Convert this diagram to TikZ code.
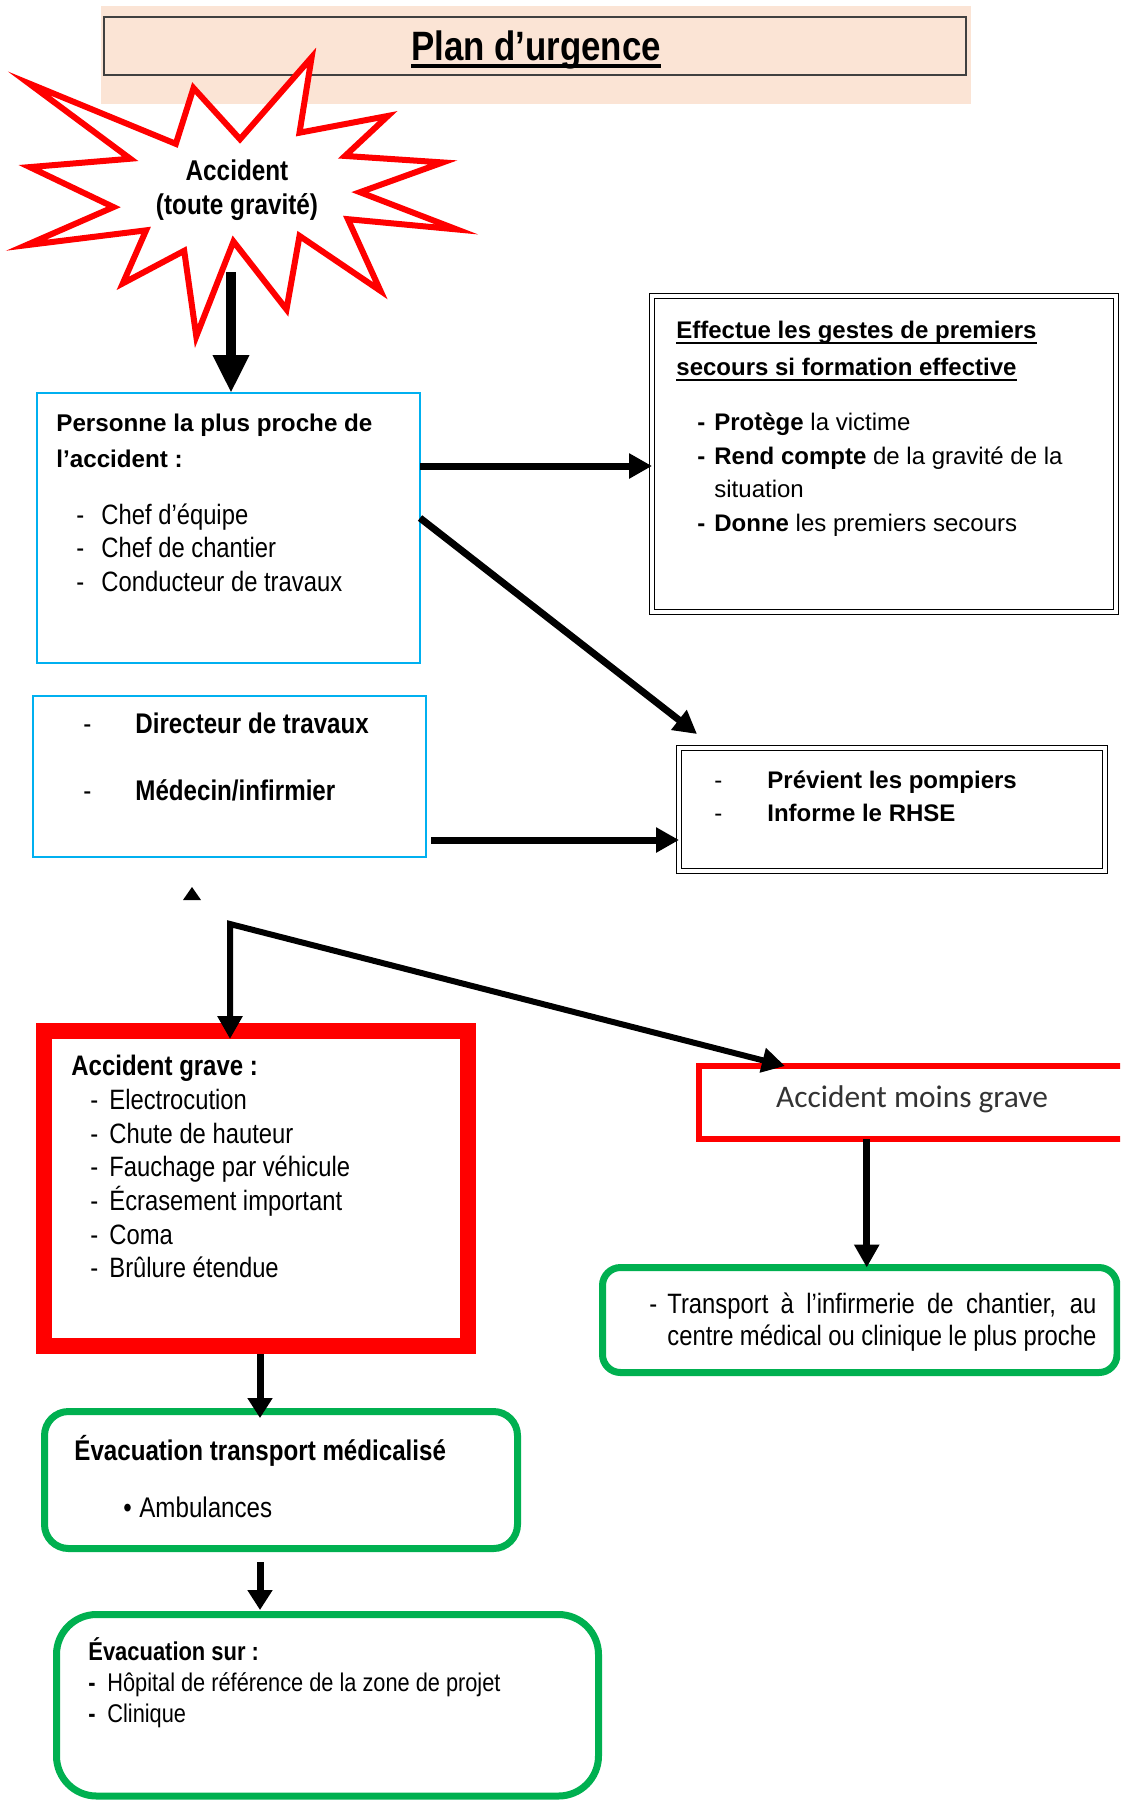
\documentclass[tikz,border=0pt]{standalone}
\usepackage{fontspec}
\setmainfont{Liberation Sans}
\newfontfamily\narrowfont{Liberation Sans}[FakeStretch=0.85]
\newfontfamily\calibrifont{Carlito}
\usetikzlibrary{arrows.meta}

\definecolor{peach}{HTML}{FBE4D5}
\definecolor{framegray}{HTML}{404040}
\definecolor{skyline}{HTML}{00B0F0}
\definecolor{alarm}{HTML}{FF0000}
\definecolor{safe}{HTML}{00B050}

% underline: #1 depth of the bar bottom, #2 bar thickness, #3 text
\newsavebox\ulbox
\newcommand{\barunder}[3]{\sbox\ulbox{#3}\usebox\ulbox\hspace{-\wd\ulbox}\rule[-#1]{\wd\ulbox}{#2}}

\tikzset{
  frame/.style={rectangle, inner sep=0pt, outer sep=0pt},
  bluebox/.style={frame, draw=skyline, line width=1pt},
  dblbox/.style={frame, draw=black, line width=0.7pt, double=white, double distance=1.6pt},
  redbox/.style={frame, draw=alarm},
  greenbox/.style={frame, draw=safe, line width=3.5pt},
  txt/.style={anchor=base west, inner sep=0pt},
  arr/.style={line width=3.5pt, -{Triangle[length=11.5pt,width=12pt]}},
  bigarrow/.style={line width=5pt, -{Triangle[length=19pt,width=17pt]}},
}

\begin{document}
\begin{tikzpicture}[x=0.5pt, y=-0.5pt]
\useasboundingbox (0,0) rectangle (1120,1800);
\clip (0,0) rectangle (1120,1800);

% title
\node[frame, fill=peach, minimum width=435pt, minimum height=49pt] (titlebg) at (536,55) {};
\node[frame, draw=framegray, line width=1pt, fill=peach, minimum width=431pt, minimum height=29pt] (titlebox) at (535,46) {};
\node[anchor=base, inner sep=0pt, font=\narrowfont\bfseries\fontsize{20.5}{24}\selectfont] (title) at (536,60)
  {\barunder{4pt}{2pt}{Plan d’urgence}};

% star
\begin{scope}[shift={(240,195)}, scale=0.93, shift={(-240,-195)}]
\draw[alarm, line width=3pt, fill=white] (317,47) -- (304,128) -- (399,110) -- (353,153) -- (458,160)
  -- (369,192) -- (473,232) -- (356,221) -- (391,298) -- (304,239) -- (290,318) -- (233,245)
  -- (193,347) -- (180,255) -- (114,290) -- (139,233) -- (10,249) -- (104,208) -- (14,165)
  -- (122,156) -- (13,75) -- (171,140) -- (190,80) -- (240,135) -- cycle;
\end{scope}
\node[anchor=base, inner sep=0pt, font=\narrowfont\bfseries\fontsize{14.3}{17}\selectfont] (accident) at (237,180) {Accident};
\node[anchor=base, inner sep=0pt, font=\narrowfont\bfseries\fontsize{14.3}{17}\selectfont] (gravity) at (237,214) {(toute gravité)};
\coordinate (starfoot) at (231,272);

% boxes
\node[bluebox, minimum width=191.5pt, minimum height=135pt] (box1) at (228.5,528) {};
\node[dblbox, minimum width=232pt, minimum height=158pt] (box2) at (884,454) {};
\node[bluebox, minimum width=196.5pt, minimum height=80.5pt] (box3) at (229.5,776.5) {};
\node[dblbox, minimum width=213pt, minimum height=61.5pt] (box4) at (892,809.5) {};
\node[redbox, line width=8pt, minimum width=212pt, minimum height=157.5pt] (box5) at (256,1188.5) {};
\node[redbox, line width=3pt, minimum width=218pt, minimum height=36.5pt] (box6) at (917,1102.5) {};
\node[greenbox, rounded corners=9pt, minimum width=257.25pt, minimum height=52.5pt] (box7) at (859.75,1320) {};
\node[greenbox, rounded corners=12pt, minimum width=236.5pt, minimum height=68.5pt] (box8) at (281,1480) {};
\node[greenbox, rounded corners=20pt, minimum width=271pt, minimum height=90.75pt] (box9) at (327.5,1705.25) {};

% box 1
\node[txt, font=\bfseries\fontsize{12.1}{15}\selectfont] (who1) at (56,431) {Personne la plus proche de};
\node[txt, font=\bfseries\fontsize{12.1}{15}\selectfont] (who2) at (56,467) {l’accident :};
\node[txt, font=\narrowfont\fontsize{14}{16}\selectfont] (who3) at (76,524) {\makebox[12.5pt][l]{-}Chef d’équipe};
\node[txt, font=\narrowfont\fontsize{14}{16}\selectfont] (who4) at (76,557) {\makebox[12.5pt][l]{-}Chef de chantier};
\node[txt, font=\narrowfont\fontsize{14}{16}\selectfont] (who5) at (76,591) {\makebox[12.5pt][l]{-}Conducteur de travaux};

% box 2
\node[txt, font=\bfseries\fontsize{12}{15}\selectfont] (aid1) at (676,338) {\barunder{3pt}{1pt}{Effectue les gestes de premiers}};
\node[txt, font=\bfseries\fontsize{12}{15}\selectfont] (aid2) at (676,375) {\barunder{3pt}{1pt}{secours si formation effective}};
\node[txt, font=\fontsize{12}{14}\selectfont] (aid3) at (697,430) {\makebox[8.5pt][l]{\bfseries -}\textbf{Protège} la victime};
\node[txt, font=\fontsize{12}{14}\selectfont] (aid4) at (697,464) {\makebox[8.5pt][l]{\bfseries -}\textbf{Rend compte} de la gravité de la};
\node[txt, font=\fontsize{12}{14}\selectfont] (aid5) at (714,497) {situation};
\node[txt, font=\fontsize{12}{14}\selectfont] (aid6) at (697,531) {\makebox[8.5pt][l]{\bfseries -}\textbf{Donne} les premiers secours};

% box 3
\node[txt, font=\narrowfont\bfseries\fontsize{14.2}{16}\selectfont] (boss1) at (83,733) {\makebox[26pt][l]{\mdseries -}Directeur de travaux};
\node[txt, font=\narrowfont\bfseries\fontsize{14.2}{16}\selectfont] (boss2) at (83,800) {\makebox[26pt][l]{\mdseries -}Médecin/infirmier};

% box 4
\node[txt, font=\bfseries\fontsize{12}{14}\selectfont] (call1) at (714,788) {\makebox[26.5pt][l]{\mdseries -}Prévient les pompiers};
\node[txt, font=\bfseries\fontsize{12}{14}\selectfont] (call2) at (714,821) {\makebox[26.5pt][l]{\mdseries -}Informe le RHSE};

% box 5
\node[txt, font=\narrowfont\bfseries\fontsize{14.1}{16}\selectfont] (grave0) at (71,1075) {Accident grave :};
\node[txt, font=\narrowfont\fontsize{14}{16}\selectfont] (grave1) at (90,1109) {\makebox[9.5pt][l]{-}Electrocution};
\node[txt, font=\narrowfont\fontsize{14}{16}\selectfont] (grave2) at (90,1143) {\makebox[9.5pt][l]{-}Chute de hauteur};
\node[txt, font=\narrowfont\fontsize{14}{16}\selectfont] (grave3) at (90,1176) {\makebox[9.5pt][l]{-}Fauchage par véhicule};
\node[txt, font=\narrowfont\fontsize{14}{16}\selectfont] (grave4) at (90,1210) {\makebox[9.5pt][l]{-}Écrasement important};
\node[txt, font=\narrowfont\fontsize{14}{16}\selectfont] (grave5) at (90,1244) {\makebox[9.5pt][l]{-}Coma};
\node[txt, font=\narrowfont\fontsize{14}{16}\selectfont] (grave6) at (90,1277) {\makebox[9.5pt][l]{-}Brûlure étendue};

% box 6
\node[anchor=base, inner sep=0pt, text=black!80, font=\calibrifont\fontsize{15.7}{18}\selectfont] (light) at (912,1107) {Accident moins grave};

% box 7
\node[txt, font=\narrowfont\fontsize{14}{16}\selectfont] (near0) at (649,1313) {-};
\node[txt, font=\narrowfont\fontsize{14}{16}\selectfont] (near1) at (667,1313) {\makebox[214.5pt][s]{Transport à l’infirmerie de chantier, au}};
\node[txt, font=\narrowfont\fontsize{14}{16}\selectfont] (near2) at (667,1345) {\makebox[214.5pt][s]{centre médical ou clinique le plus proche}};

% box 8
\node[txt, font=\narrowfont\bfseries\fontsize{14.2}{16}\selectfont] (evac1) at (74,1460) {Évacuation transport médicalisé};
\node[txt, font=\narrowfont\fontsize{14.2}{16}\selectfont] (evac2) at (123,1517) {\makebox[8pt][l]{•}Ambulances};

% box 9
\node[txt, font=\narrowfont\bfseries\fontsize{12.9}{15}\selectfont] (dest0) at (88,1660) {Évacuation sur :};
\node[txt, font=\narrowfont\fontsize{12.8}{15}\selectfont] (dest1) at (88,1691) {\makebox[9.5pt][l]{\bfseries -}Hôpital de référence de la zone de projet};
\node[txt, font=\narrowfont\fontsize{12.8}{15}\selectfont] (dest2) at (88,1722) {\makebox[9.5pt][l]{\bfseries -}Clinique};

% connectors
\draw[bigarrow] (starfoot) -- (starfoot |- box1.north);
\draw[arr] ([yshift=31pt]box1.east) -- ([yshift=-6pt]box2.west);
\draw[arr] ([yshift=5pt]box1.east) -- ([xshift=9pt,yshift=7pt]box4.north west);
\draw[arr] ([xshift=2.5pt,yshift=-31.75pt]box3.east) -- ([yshift=-15.25pt]box4.west);
\fill (192,887) -- (183,900) -- (201,900) -- cycle;
\coordinate (split) at (230,924);
\draw[line width=3pt, {Triangle[length=11.5pt,width=12pt]}-{Triangle[length=11.5pt,width=12pt]}, shorten <=-4pt]
  (split |- box5.north) -- (split) -- ([xshift=43pt]box6.north west);
\draw[arr] ([xshift=3.5pt]box6.south -| box7.north) -- ([xshift=3.5pt]box7.north);
\draw[arr, -{Triangle[length=10pt,width=12pt]}, shorten <=4pt, shorten >=-3.25pt] ([xshift=2pt]box5.south) -- ([xshift=2pt]box5.south |- box8.north);
\draw[arr, -{Triangle[length=10pt,width=12pt]}, shorten <=6.75pt, shorten >=2.25pt] ([xshift=-10.5pt]box8.south) -- ([xshift=-10.5pt]box8.south |- box9.north);
\end{tikzpicture}
\end{document}
